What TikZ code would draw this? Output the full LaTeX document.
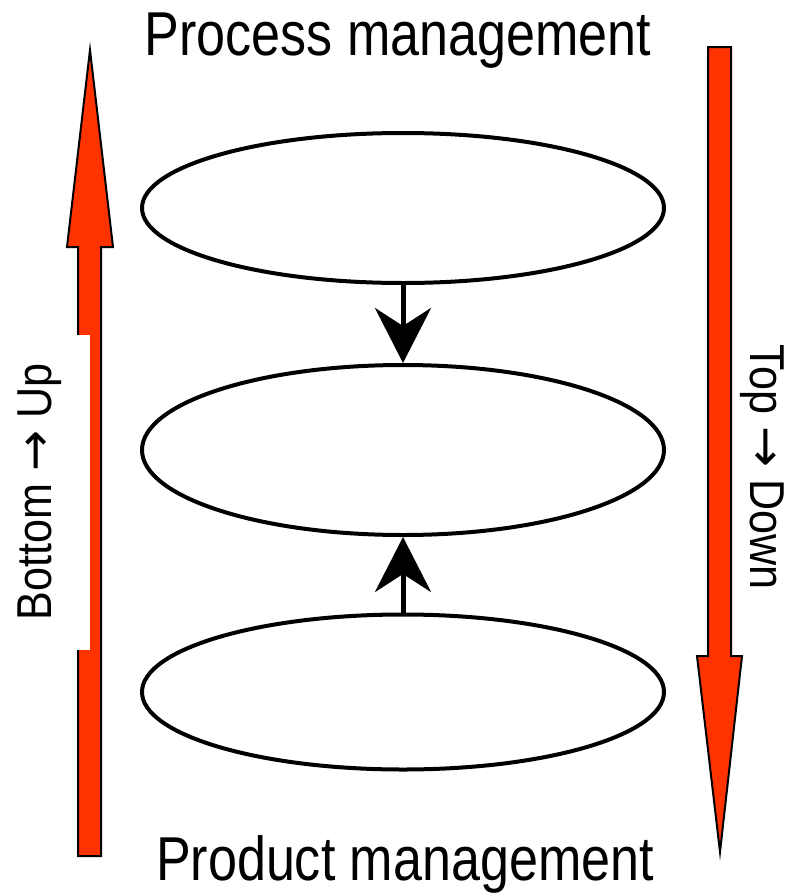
\documentclass[tikz,border=0pt]{standalone}
\usepackage{fontspec}
\setmainfont[FakeStretch=0.88]{Liberation Sans}
\newfontfamily\titlefont[FakeStretch=0.84]{Liberation Sans}
\newfontfamily\arrowfont{DejaVu Sans}
\usetikzlibrary{arrows.meta,shapes.geometric}
\definecolor{arrred}{HTML}{FF3300}
\newcommand{\sidearrow}{{\arrowfont →}}
\begin{document}
\begin{tikzpicture}[x=1pt,y=-1pt,
  bigarrow/.style={fill=arrred, draw=black, line width=2pt, line join=miter},
  oval/.style={ellipse, draw, line width=4pt, minimum width=522pt, minimum height=150pt, inner sep=0pt},
  link/.style={line width=5pt, -{Stealth[length=55pt,width=56pt,inset=18pt]}},
  title/.style={font=\titlefont\fontsize{62}{64}\selectfont, inner sep=0pt},
  side/.style={font=\fontsize{49}{52}\selectfont, inner sep=0pt}]
\useasboundingbox[fill=white] (0,0) rectangle (799,894);
% big red arrows
\draw[bigarrow] (78,856) -- (78,247) -- (67,247) -- (90,50) -- (113,247) -- (101,247) -- (101,856) -- cycle;
\draw[bigarrow] (708,47) -- (708,656) -- (697,656) -- (720,852) -- (742,656) -- (731,656) -- (731,47) -- cycle;
% labels
\node[side, rotate=90, fill=white, minimum width=315pt, minimum height=100pt] (bu) at (40,492) {Bottom \sidearrow{} Up};
\node[side, rotate=-90] (td) at (762,467) {Top \sidearrow{} Down};
\node[title, anchor=base] (proc) at (398,55) {Process management};
\node[title, anchor=base] (prod) at (405,880) {Product management};
% ellipses
\node[oval] (e1) at (403,208) {};
\node[oval, minimum height=170pt] (e2) at (403,450) {};
\node[oval, minimum height=155pt] (e3) at (403,692) {};
% connectors
\draw[link] (e1.south) -- (e2.north);
\draw[link] (e3.north) -- (e2.south);
\end{tikzpicture}
\end{document}
